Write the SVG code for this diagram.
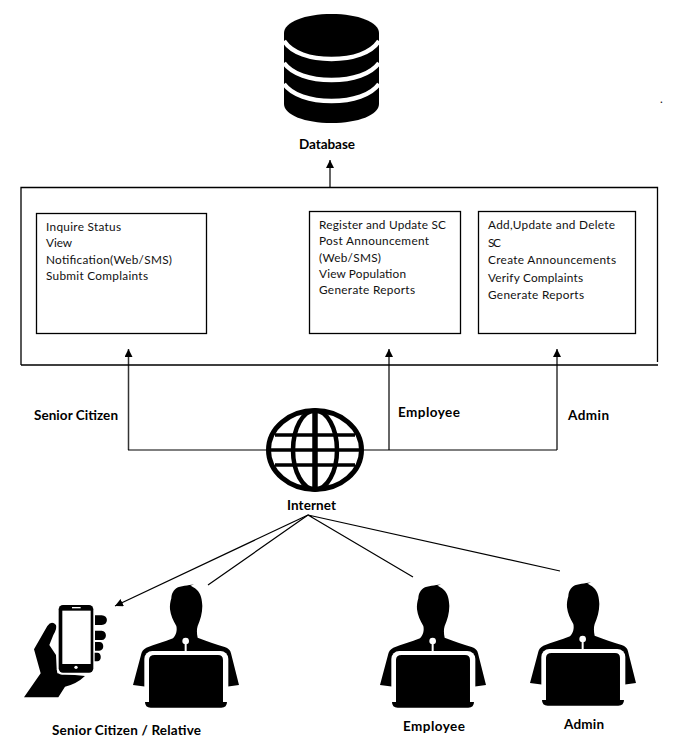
<svg xmlns="http://www.w3.org/2000/svg" width="678" height="740" viewBox="0 0 678 740">
<style>
.box{fill:#fff;stroke:#000;stroke-width:1.3}
.t{font-family:Lato,"Liberation Sans",sans-serif;font-size:11.800px;fill:#111}
.b{font-family:Lato,"Liberation Sans",sans-serif;font-size:13.500px;font-weight:700;fill:#000}
.ln{fill:none;stroke:#000;stroke-width:1.2}
.up{fill:none;stroke:#333;stroke-width:1.5}
</style>
<defs>
<marker id="ah" markerUnits="userSpaceOnUse" markerWidth="9" markerHeight="9" refX="8" refY="4" orient="auto"><path d="M0 0L8 4L0 8Z" fill="#000"/></marker>
<g id="person" transform="scale(.3333)">
<path fill="#000" d="M216 42C205 46 180 46 165 52C150 60 146 72 145 85C142 95 140 105 141 118C143 135 150 152 160 168C163 180 160 195 150 205C125 215 95 224 70 233C60 238 56 245 54 255L30 345L70 350L310 350L348 345L324 250C322 240 316 235 305 231C280 222 250 214 224 203C221 190 221 178 224 168C232 150 238 130 238 108C237 88 234 72 222 60C214 52 207 49 202 47Z"/>
<rect x="64" y="243" width="252" height="170" rx="24" fill="#fff"/>
<path fill="#000" d="M95 255H285Q300 255 300 270V396H312Q312 413 295 413H83Q66 413 66 396H78V270Q78 255 95 255Z"/>
<circle cx="188" cy="213" r="10" fill="#fff"/>
<rect x="185" y="213" width="6" height="32" fill="#fff"/>
</g>
</defs>

<g id="connectors">
<path class="up" d="M330 187V160" marker-end="url(#ah)"/>
<path class="up" d="M128.500 450V349" marker-end="url(#ah)"/>
<path class="up" d="M389 450V349" marker-end="url(#ah)"/>
<path class="up" d="M557 450V349" marker-end="url(#ah)"/>
<path class="ln" d="M128 450H266M364 450H557"/>
<path class="ln" d="M308 515L115 606" marker-end="url(#ah)"/>
<path class="ln" d="M308 515L208 585M308 515L413 577M308 515L560 571"/>
</g>

<g id="system">
<path fill="none" stroke="#000" stroke-width="1.3" d="M21 365V187.500H657.500V362M21 365H658"/>
</g>

<g id="database">
<path fill="#000" d="M284 33C284 22 305 14 331.500 14C358 14 379 22 379 33V104C379 115 358 123 331.500 123C305 123 284 115 284 104Z"/>
<path fill="none" stroke="#fff" stroke-width="4.500" d="M284 41C292 53 310 59 331.500 59C353 59 371 53 379 41M284 63C292 74 310 80 331.500 80C353 80 371 74 379 63M284 84C292 95 310 101 331.500 101C353 101 371 95 379 84"/>
<text class="b" x="299" y="149" textLength="56">Database</text>
</g>

<g id="senior-functions">
<rect class="box" x="36.500" y="213.500" width="170" height="120"/>
<text class="t" x="46" y="231" textLength="75">Inquire Status</text>
<text class="t" x="46" y="247" textLength="26">View</text>
<text class="t" x="46" y="263.500" textLength="126">Notification(Web/SMS)</text>
<text class="t" x="46" y="280" textLength="102">Submit Complaints</text>
</g>

<g id="employee-functions">
<rect class="box" x="309.500" y="211.500" width="151" height="122"/>
<text class="t" x="319" y="229" textLength="127">Register and Update SC</text>
<text class="t" x="319" y="245" textLength="110">Post Announcement</text>
<text class="t" x="319" y="262" textLength="62">(Web/SMS)</text>
<text class="t" x="319" y="278" textLength="87">View Population</text>
<text class="t" x="319" y="294" textLength="96">Generate Reports</text>
</g>

<g id="admin-functions">
<rect class="box" x="478.500" y="211.500" width="157" height="122"/>
<text class="t" x="488" y="229" textLength="127">Add,Update and Delete</text>
<text class="t" x="488" y="247" textLength="13">SC</text>
<text class="t" x="488" y="264" textLength="128">Create Announcements</text>
<text class="t" x="488" y="282" textLength="95">Verify Complaints</text>
<text class="t" x="488" y="299" textLength="96">Generate Reports</text>
</g>

<g id="label-senior"><text class="b" x="34" y="420" textLength="84">Senior Citizen</text></g>
<g id="label-employee"><text class="b" x="398" y="417" textLength="62">Employee</text></g>
<g id="label-admin"><text class="b" x="568" y="420" textLength="41">Admin</text></g>

<g id="internet">
<g fill="none" stroke="#000">
<ellipse cx="315" cy="450" rx="46.500" ry="39.500" stroke-width="5"/>
<ellipse cx="315" cy="450" rx="22" ry="39.500" stroke-width="4.500"/>
<path stroke-width="5.500" d="M315 410V490"/>
<path stroke-width="3.500" d="M268 450H362M275 435H355M275 465H355"/>
</g>
<text class="b" x="287" y="510" textLength="49">Internet</text>
</g>

<g id="senior-user">
<g transform="translate(20 570) scale(.3333)">
<path fill="#000" d="M12 382L62 310L42 238L82 168Q95 150 108 165Q112 175 100 195L88 225L108 255L112 310L195 318Q170 342 135 350L115 382Z"/>
<path fill="#000" d="M225 136H245C266 136 266 165 245 165H225ZM225 182H245C262 182 262 210 245 210H225ZM225 216H238C254 216 254 242 238 242H225ZM222 248H232C246 248 246 274 232 274H222Z"/>
<rect x="110" y="100" width="114" height="214" rx="16" fill="#fff"/>
<rect x="116" y="105" width="104" height="203" rx="13" fill="#000"/>
<rect x="127" y="122" width="85" height="160" fill="#fff"/>
<rect x="156" y="111" width="26" height="4" fill="#fff"/>
<circle cx="168" cy="292" r="5" fill="#fff"/>
</g>
<use href="#person" transform="translate(123 570)"/>
<text class="b" x="52" y="735" textLength="149">Senior Citizen / Relative</text>
</g>

<g id="employee-user">
<use href="#person" transform="translate(370 570)"/>
<text class="b" x="403" y="731" textLength="62">Employee</text>
</g>

<g id="admin-user">
<use href="#person" transform="translate(520 568)"/>
<text class="b" x="564" y="729" textLength="40">Admin</text>
</g>

<text class="t" x="660" y="103">.</text>
</svg>
